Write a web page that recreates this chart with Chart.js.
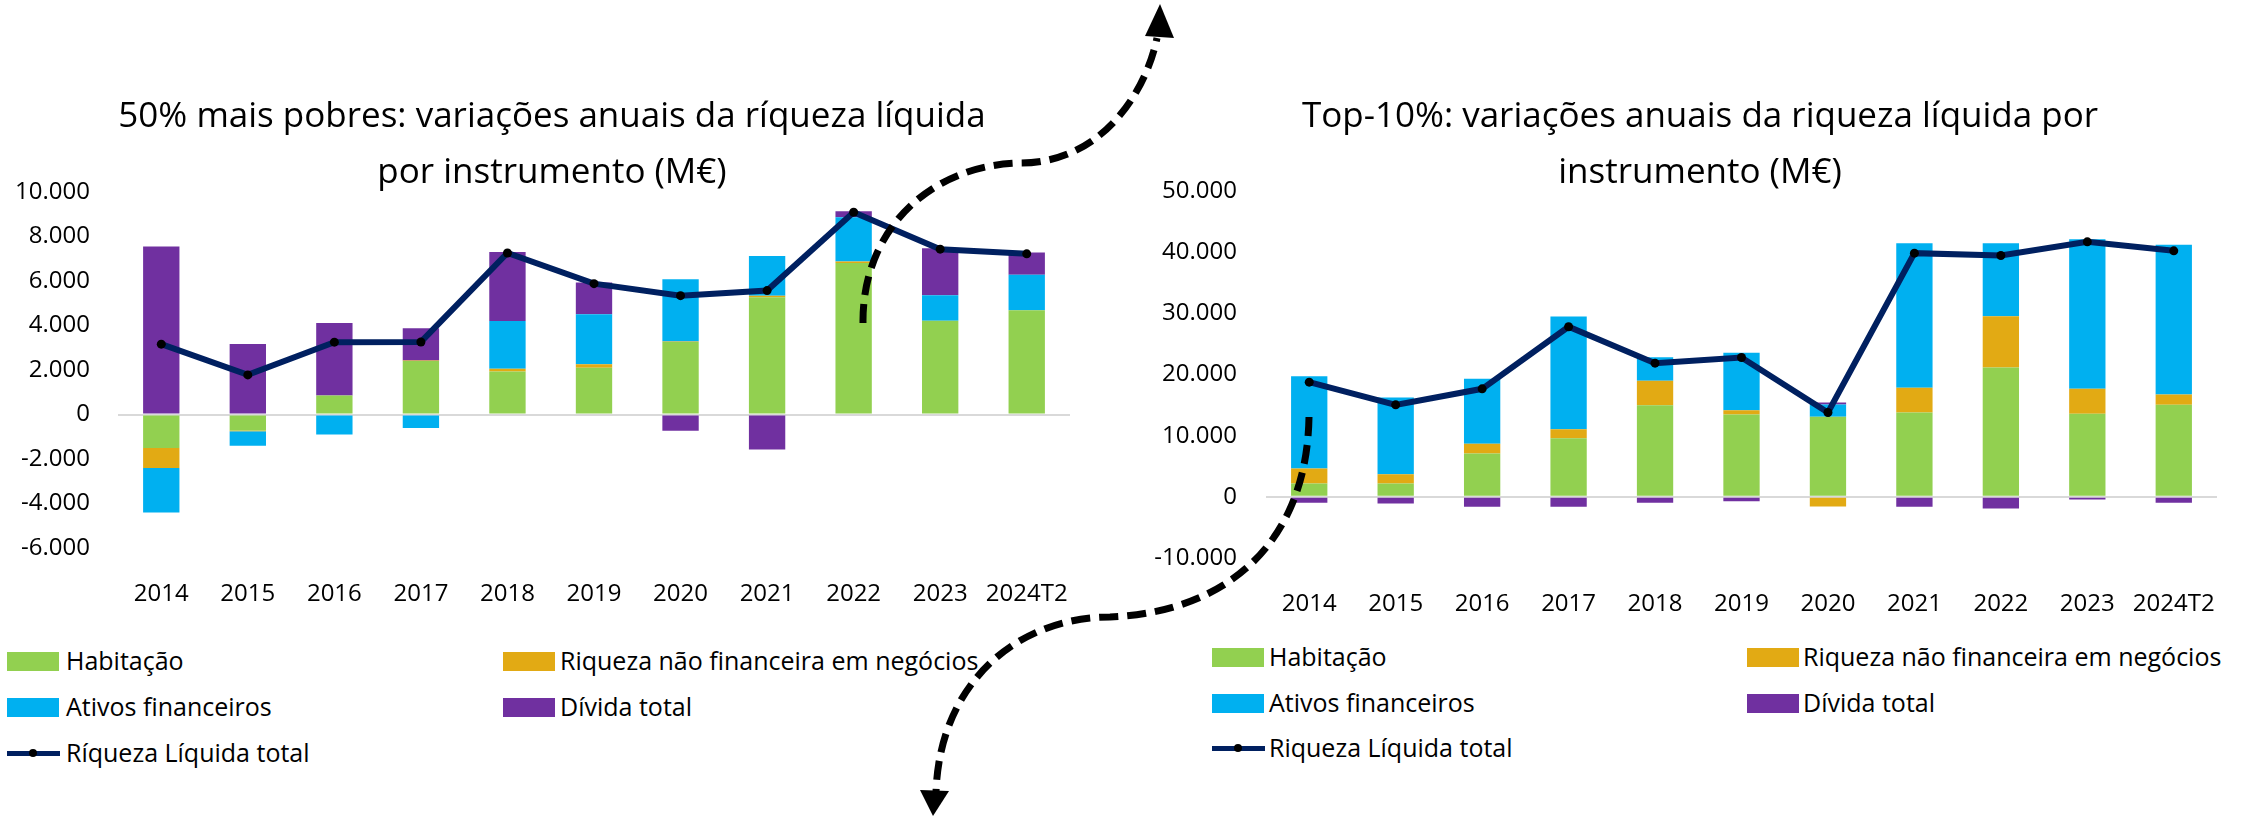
<!DOCTYPE html>
<html><head><meta charset="utf-8">
<script src="https://cdn.jsdelivr.net/npm/chart.js@4"></script>
<style>
html,body{margin:0;padding:0;background:#fff}
body{width:2252px;height:816px;overflow:hidden;position:relative;font-family:'Open Sans',sans-serif;color:#000}
canvas{position:absolute;top:0}
#c1{left:0}
#c2{left:1152px}
.lg{position:absolute;font-size:25px;line-height:26px;white-space:nowrap}
.bx{position:absolute;width:52px;height:19px}
.ln{position:absolute;width:53px;height:5px}
.dt{position:absolute;width:8px;height:8px;border-radius:50%;background:#000}
svg{position:absolute;left:0;top:0;z-index:5}
</style></head><body>
<canvas id="c1" width="1110" height="620"></canvas>
<canvas id="c2" width="1100" height="630"></canvas>
<div id="legends"></div>
<svg width="2252" height="816" viewBox="0 0 2252 816">
 <g fill="none" stroke="#000" stroke-width="7" stroke-dasharray="19 9">
  <path d="M 863 323 C 862 230 930 165 1020 163 C 1100 163 1145 95 1157 38"/>
  <path d="M 1309 417 C 1307 540 1230 612 1110 617 C 1020 617 940 680 936 792"/>
 </g>
 <polygon points="1160,4 1145,36 1174,38" fill="#000"/>
 <polygon points="933,816 920,790 949,791" fill="#000"/>
</svg>
<script>
const categories = ['2014','2015','2016','2017','2018','2019','2020','2021','2022','2023','2024T2'];

// 50% mais pobres (M€)
const poorHabitacao = [-1500, -720, 850, 2400, 1930, 2100, 3260, 5270, 6810, 4210, 4690];
const poorNegocios  = [-900, -30, 0, 30, 130, 160, 20, 70, 70, 0, 0];
const poorAtivos    = [-2000, -660, -900, -610, 2140, 2250, 2800, 1780, 1980, 1150, 1590];
const poorDivida    = [7550, 3170, 3260, 1450, 3100, 1420, -730, -1570, 280, 2110, 1000];
const poorTotal     = [3160, 1780, 3250, 3260, 7260, 5880, 5340, 5570, 9090, 7430, 7220];

// Top-10% (M€)
const topHabitacao = [2180, 2180, 7080, 9590, 14990, 13460, 13080, 13790, 21140, 13570, 15040];
const topNegocios  = [2450, 1530, 1580, 1470, 3980, 710, -1580, 4030, 8390, 4090, 1690];
const topAtivos    = [15100, 12530, 10630, 18420, 3870, 9370, 2020, 23650, 11930, 24470, 24470];
const topDivida    = [-980, -1090, -1630, -1630, -980, -710, 330, -1630, -1910, -440, -980];
const topTotal     = [18750, 15040, 17660, 27800, 21850, 22780, 13790, 39840, 39460, 41690, 40220];

const poorTicks = {min: -6000, max: 10000, step: 2000};
const topTicks  = {min: -10000, max: 50000, step: 10000};

const poorTitle = ['50% mais pobres: variações anuais da ríqueza líquida', 'por instrumento (M€)'];
const topTitle  = ['Top-10%: variações anuais da riqueza líquida por', 'instrumento (M€)'];

const seriesNames = ['Habitação', 'Riqueza não financeira em negócios', 'Ativos financeiros', 'Dívida total'];
const poorLineName = 'Ríqueza Líquida total';
const topLineName  = 'Riqueza Líquida total';

const COLORS = ['#92D050', '#E2AA14', '#00B0F0', '#7030A0'];
const LINE = '#002060';
const FONT = "'Open Sans', sans-serif";

function fmt(v){
  const s = Math.abs(v).toString().replace(/\B(?=(\d{3})+(?!\d))/g, '.');
  return (v < 0 ? '-' : '') + s;
}

// draws the two-line chart title centred at a given x
const titlePlugin = {
  id: 'titleLines',
  afterDraw(chart, args, opts) {
    const ctx = chart.ctx;
    ctx.save();
    ctx.fillStyle = '#000';
    ctx.font = '35px ' + FONT;
    ctx.textAlign = 'center';
    ctx.textBaseline = 'middle';
    opts.lines.forEach((t, i) => ctx.fillText(t, opts.x, opts.y + i * opts.gap));
    ctx.restore();
  }
};

function makeChart(id, bars, total, lineName, ticks, title, titleX, top, yWidth, yPad, padRight){
  const datasets = bars.map((d, i) => ({
    type: 'bar', label: seriesNames[i], data: d, backgroundColor: COLORS[i],
    borderWidth: 0, order: 1, stack: 'bars',
    categoryPercentage: 1, barPercentage: 0.42
  }));
  datasets.push({
    type: 'line', label: lineName, data: total, borderColor: LINE, borderWidth: 6,
    pointRadius: 4.5, pointBackgroundColor: '#000', pointBorderColor: '#000', pointBorderWidth: 0,
    tension: 0, order: 0, stack: 'line', fill: false
  });
  return new Chart(document.getElementById(id), {
    data: {labels: categories, datasets},
    plugins: [titlePlugin],
    options: {
      responsive: false, animation: false, devicePixelRatio: 1,
      layout: {padding: {left: 0, right: padRight, top: top, bottom: 0}},
      plugins: {
        legend: {display: false}, tooltip: {enabled: false}, title: {display: false},
        titleLines: {lines: title, x: titleX, y: 117, gap: 56}
      },
      scales: {
        x: {stacked: true, grid: {display: false}, border: {display: false},
            ticks: {color: '#000', font: {family: FONT, size: 24}, padding: 24, maxRotation: 0, autoSkip: false},
            afterFit: s => { s.height = 72; }},
        y: {stacked: true, min: ticks.min, max: ticks.max, border: {display: false},
            grid: {drawTicks: false, lineWidth: 2,
                   color: c => (c.tick && c.tick.value === 0) ? '#D9D9D9' : 'rgba(0,0,0,0)'},
            ticks: {stepSize: ticks.step, color: '#000', font: {family: FONT, size: 24}, padding: yPad,
                    callback: v => fmt(v)},
            afterFit: s => { s.width = yWidth; }}
      }
    }
  });
}

makeChart('c1', [poorHabitacao, poorNegocios, poorAtivos, poorDivida], poorTotal, poorLineName, poorTicks, poorTitle, 552, 192, 118, 28, 40);
makeChart('c2', [topHabitacao, topNegocios, topAtivos, topDivida], topTotal, topLineName, topTicks, topTitle, 548, 191, 114, 29, 35);

// HTML legends
function legend(col1Box, col1Text, col2Box, col2Text, rows, lineName){
  const host = document.getElementById('legends');
  const items = [
    {kind:'box', c:COLORS[0], t:seriesNames[0], bx:col1Box, tx:col1Text, y:rows[0]},
    {kind:'box', c:COLORS[1], t:seriesNames[1], bx:col2Box, tx:col2Text, y:rows[0]},
    {kind:'box', c:COLORS[2], t:seriesNames[2], bx:col1Box, tx:col1Text, y:rows[1]},
    {kind:'box', c:COLORS[3], t:seriesNames[3], bx:col2Box, tx:col2Text, y:rows[1]},
    {kind:'line', c:LINE, t:lineName, bx:col1Box, tx:col1Text, y:rows[2]}
  ];
  items.forEach(it => {
    if (it.kind === 'box') {
      const b = document.createElement('div'); b.className = 'bx';
      b.style.left = it.bx + 'px'; b.style.top = (it.y - 9.5) + 'px'; b.style.background = it.c;
      host.appendChild(b);
    } else {
      const l = document.createElement('div'); l.className = 'ln';
      l.style.left = it.bx + 'px'; l.style.top = (it.y - 2.5) + 'px'; l.style.background = it.c;
      host.appendChild(l);
      const d = document.createElement('div'); d.className = 'dt';
      d.style.left = (it.bx + 22) + 'px'; d.style.top = (it.y - 4) + 'px';
      host.appendChild(d);
    }
    const t = document.createElement('div'); t.className = 'lg';
    t.textContent = it.t; t.style.left = it.tx + 'px'; t.style.top = (it.y - 14) + 'px';
    host.appendChild(t);
  });
}
legend(7, 66, 503, 560, [661, 707, 753], poorLineName);
legend(1212, 1269, 1747, 1803, [657, 703, 748], topLineName);
</script>
</body></html>
